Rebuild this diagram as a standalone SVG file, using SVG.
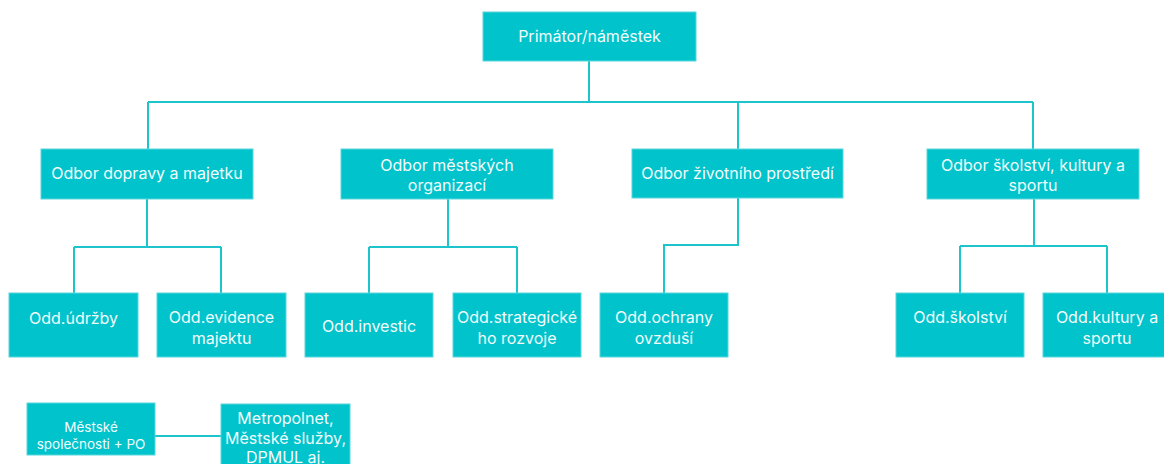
<svg xmlns="http://www.w3.org/2000/svg" width="1164" height="464" viewBox="0 0 1164 464">
<style>
.box{fill:#00C3CB;stroke:#5AD6DC;stroke-width:1}
.t{font-family:Inter,"Noto Sans","Liberation Sans",sans-serif;font-size:16px;fill:#F2FCFC;text-anchor:middle;dominant-baseline:central}
.s{font-size:13.5px}
.c{fill:none;stroke:#1EC4CC;stroke-width:2}
</style>
<rect width="1164" height="464" fill="#fff"/>
<g id="connectors">
<path class="c" d="M589 61V102M148 102H1033M148 102V149M738 102V149M1033 102V149"/>
<path class="c" d="M147 199V247M74 247H221M74 247V293M221 247V293"/>
<path class="c" d="M448 199V247M369 247H517M369 247V293M517 247V293"/>
<path class="c" d="M738 198V245H664V293"/>
<path class="c" d="M1034 199V246M960 246H1107M960 246V293M1107 246V293"/>
<path class="c" d="M155 436H221"/>
</g>
<g id="n-primator"><rect class="box" x="483" y="12" width="213" height="49"/><text class="t" x="589.5" y="36">Primátor/náměstek</text></g>
<g id="n-doprava"><rect class="box" x="41" y="149" width="212" height="50"/><text class="t" x="147" y="173">Odbor dopravy a majetku</text></g>
<g id="n-organizace"><rect class="box" x="341" y="149" width="212" height="50"/><text class="t" x="447" y="165">Odbor městských</text><text class="t" x="447" y="185">organizací</text></g>
<g id="n-prostredi"><rect class="box" x="632" y="149" width="211" height="49"/><text class="t" x="737.5" y="173">Odbor životního prostředí</text></g>
<g id="n-skolstvi"><rect class="box" x="927" y="149" width="212" height="50"/><text class="t" x="1033" y="165">Odbor školství, kultury a</text><text class="t" x="1033" y="185">sportu</text></g>
<g id="n-udrzby"><rect class="box" x="9" y="293" width="129" height="64"/><text class="t" x="73.5" y="318">Odd.údržby</text></g>
<g id="n-evidence"><rect class="box" x="157" y="293" width="129" height="64"/><text class="t" x="221.5" y="317">Odd.evidence</text><text class="t" x="221.5" y="338">majektu</text></g>
<g id="n-investic"><rect class="box" x="305" y="293" width="128" height="64"/><text class="t" x="369" y="326">Odd.investic</text></g>
<g id="n-strategie"><rect class="box" x="453" y="293" width="128" height="64"/><text class="t" x="517" y="317">Odd.strategické</text><text class="t" x="517" y="338">ho rozvoje</text></g>
<g id="n-ovzdusi"><rect class="box" x="600" y="293" width="128" height="64"/><text class="t" x="664" y="317">Odd.ochrany</text><text class="t" x="664" y="338">ovzduší</text></g>
<g id="n-odd-skolstvi"><rect class="box" x="896" y="293" width="128" height="64"/><text class="t" x="960" y="317">Odd.školství</text></g>
<g id="n-kultura"><rect class="box" x="1043" y="293" width="128" height="64"/><text class="t" x="1107" y="317">Odd.kultury a</text><text class="t" x="1107" y="338">sportu</text></g>
<g id="n-spolecnosti"><rect class="box" x="27" y="403" width="128" height="52"/><text class="t s" x="91" y="427">Městské</text><text class="t s" x="91" y="444">společnosti + PO</text></g>
<g id="n-metropolnet"><rect class="box" x="221" y="404" width="129" height="70"/><text class="t" x="285.5" y="418">Metropolnet,</text><text class="t" x="285.5" y="438">Městské služby,</text><text class="t" x="285.5" y="457">DPMUL aj.</text></g>
</svg>
